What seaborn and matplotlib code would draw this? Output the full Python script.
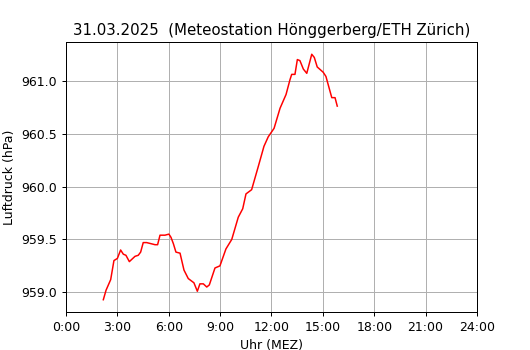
import matplotlib
matplotlib.use("Agg")
import matplotlib.pyplot as plt
import seaborn as sns
import pandas as pd

hours = [2.18, 2.34, 2.61, 2.80, 3.00, 3.19, 3.35, 3.50, 3.70, 4.03, 4.22, 4.36, 4.51, 4.71,
         5.20, 5.35, 5.49, 5.78, 6.01, 6.13, 6.27, 6.42, 6.66, 6.76, 6.89, 7.14, 7.47, 7.67,
         7.82, 8.02, 8.22, 8.37, 8.70, 8.99, 9.34, 9.68, 10.06, 10.32, 10.51, 10.84, 11.23,
         11.56, 11.81, 12.15, 12.50, 12.85, 13.08, 13.18, 13.37, 13.51, 13.66, 13.86, 14.06,
         14.35, 14.50, 14.67, 15.02, 15.18, 15.52, 15.71, 15.84]
pressure = [958.93, 959.02, 959.12, 959.30, 959.32, 959.40, 959.36, 959.35, 959.29, 959.34,
            959.35, 959.38, 959.47, 959.47, 959.45, 959.45, 959.54, 959.54, 959.55, 959.52,
            959.46, 959.38, 959.37, 959.30, 959.21, 959.13, 959.09, 959.01, 959.08, 959.08,
            959.05, 959.07, 959.23, 959.25, 959.41, 959.50, 959.71, 959.79, 959.93, 959.97,
            960.19, 960.38, 960.47, 960.55, 960.74, 960.87, 961.01, 961.06, 961.06, 961.20,
            961.19, 961.11, 961.07, 961.25, 961.22, 961.13, 961.08, 961.04, 960.84, 960.84,
            960.76]
tick_hours = [0, 3, 6, 9, 12, 15, 18, 21, 24]
tick_labels = ["0:00", "3:00", "6:00", "9:00", "12:00", "15:00", "18:00", "21:00", "24:00"]
title = "31.03.2025  (Meteostation Hönggerberg/ETH Zürich)"

df = pd.DataFrame({"Uhr": hours, "Druck": pressure})

DPI = 90
fig = plt.figure(figsize=(530 / DPI, 350 / DPI), dpi=DPI)
ax = fig.add_axes([0.1245, 0.1086, 0.7755, 0.7714])
sns.lineplot(data=df, x="Uhr", y="Druck", color="red", linewidth=1.2, ax=ax)
ax.set_xlim(0, 24)
ax.set_xticks(tick_hours)
ax.set_xticklabels(tick_labels)
ax.set_yticks([959.0, 959.5, 960.0, 960.5, 961.0])
ax.grid(True, color="#b0b0b0", linewidth=0.8)
ax.set_axisbelow(True)
ax.set_xlabel("Uhr (MEZ)")
ax.set_ylabel("Luftdruck (hPa)")
ax.set_title(title)
fig.savefig("out.png", dpi=DPI)
